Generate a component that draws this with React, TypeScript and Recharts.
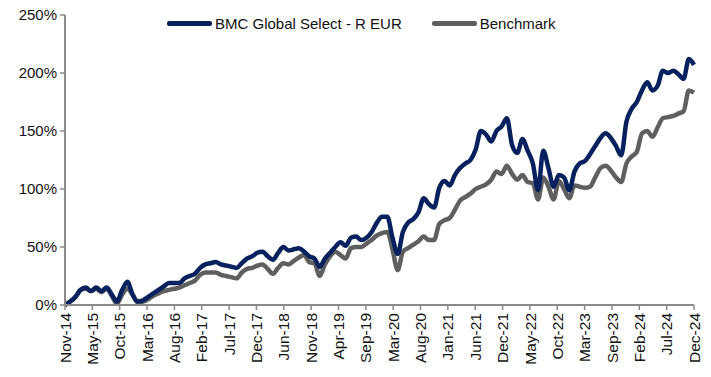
import { LineChart, Line, XAxis, YAxis } from "recharts";

// monthly cumulative performance (%), Nov-14 .. Dec-24
const fund = [
  0, 3, 7, 13, 15, 12, 15, 12, 15, 9, 3, 13, 20, 9, 3, 4, 7, 10, 13, 16,
  19, 19, 19, 23, 25, 27, 32, 35, 36, 37, 35, 34, 33, 32, 36, 40, 42, 45, 46, 42,
  39, 45, 50, 47, 48, 49, 46, 42, 40, 33, 40, 45, 50, 54, 51, 58, 59, 56, 58, 63,
  71, 76, 76, 58, 44, 63, 71, 74, 80, 92, 87, 84, 101, 107, 103, 112, 118, 122, 125, 134,
  150, 147, 141, 150, 154, 161, 138, 131, 143, 133, 122, 99, 133, 118, 102, 112, 110, 99, 115, 122,
  124, 130, 137, 144, 148, 144, 137, 129, 158, 169, 175, 185, 192, 185, 189, 202, 200, 202, 199, 195,
  212, 207,
];

const benchmark = [
  0, 3, 7, 13, 14, 12, 14, 11, 14, 8, 1, 9, 14, 9, 2, 3, 5, 8, 10, 12,
  13, 14, 15, 17, 19, 21, 26, 28, 28, 28, 26, 25, 24, 23, 28, 31, 32, 34, 35, 31,
  27, 32, 36, 35, 38, 41, 43, 37, 36, 25, 35, 42, 46, 43, 40, 49, 50, 50, 53, 56,
  60, 62, 63, 48, 30, 46, 49, 52, 55, 59, 56, 56, 70, 73, 75, 82, 90, 93, 96, 100,
  102, 104, 108, 115, 113, 120, 113, 108, 112, 106, 105, 91, 110, 102, 91, 107, 100, 92, 103, 102,
  101, 102, 110, 118, 120, 116, 110, 106, 122, 128, 132, 148, 150, 145, 153, 161, 162, 163, 165, 167,
  185, 183,
];

const tickLabels = [
  "Nov-14", "May-15", "Oct-15", "Mar-16", "Aug-16", "Feb-17", "Jul-17", "Dec-17",
  "Jun-18", "Nov-18", "Apr-19", "Sep-19", "Mar-20", "Aug-20", "Jan-21", "Jun-21",
  "Dec-21", "May-22", "Oct-22", "Mar-23", "Sep-23", "Feb-24", "Jul-24", "Dec-24",
];

const yTicks = [0, 50, 100, 150, 200, 250];

const FUND_NAME = "BMC Global Select - R EUR";
const BENCH_NAME = "Benchmark";
const FUND_COLOR = "#06215e";
const BENCH_COLOR = "#5f5f5f";
const AXIS_COLOR = "#8a8a8a";
const FONT = "'Liberation Sans', Arial, sans-serif";

const data = fund.map((v, i) => ({ m: i, fund: v, bench: benchmark[i] }));
const lastIdx = fund.length - 1;
const step = lastIdx / (tickLabels.length - 1);
const xTicks = tickLabels.map((_, i) => i * step);

function XTick({ x, y, payload }: any) {
  const label = tickLabels[Math.round(payload.value / step)];
  return (
    <text
      transform={`translate(${x},${y}) rotate(-90)`}
      textAnchor="end"
      dy="0.36em"
      fontSize={15.5}
      fontFamily={FONT}
      fill="#111"
    >
      {label}
    </text>
  );
}

function LegendItem({ color, name }: { color: string; name: string }) {
  return (
    <div style={{ display: "flex", alignItems: "center" }}>
      <div style={{ width: 45, height: 5, background: color, borderRadius: 2, marginRight: 3 }} />
      <span style={{ fontSize: 15, fontFamily: FONT, color: "#111" }}>{name}</span>
    </div>
  );
}

export default function App() {
  return (
    <div style={{ position: "absolute", left: 0, top: 0, width: 711, height: 377, background: "#fff" }}>
      <LineChart
        width={711}
        height={377}
        data={data}
        margin={{ top: 15, right: 17, left: 0, bottom: 0 }}
      >
        <XAxis
          dataKey="m"
          type="number"
          domain={[0, lastIdx]}
          ticks={xTicks}
          interval={0}
          height={72}
          tick={<XTick />}
          tickSize={5}
          tickMargin={3}
          axisLine={{ stroke: AXIS_COLOR, strokeWidth: 2 }}
          tickLine={{ stroke: AXIS_COLOR, strokeWidth: 1.5 }}
        />
        <YAxis
          domain={[0, 250]}
          ticks={yTicks}
          width={65}
          tickFormatter={(v: number) => `${v}%`}
          tick={{ fontSize: 15, fontFamily: FONT, fill: "#111" }}
          tickSize={5}
          tickMargin={3}
          axisLine={{ stroke: AXIS_COLOR, strokeWidth: 2 }}
          tickLine={{ stroke: AXIS_COLOR, strokeWidth: 1.5 }}
        />
        <Line
          type="monotone"
          dataKey="bench"
          name={BENCH_NAME}
          stroke={BENCH_COLOR}
          strokeWidth={4.5}
          dot={false}
          isAnimationActive={false}
        />
        <Line
          type="monotone"
          dataKey="fund"
          name={FUND_NAME}
          stroke={FUND_COLOR}
          strokeWidth={4.5}
          dot={false}
          isAnimationActive={false}
        />
      </LineChart>
      <div style={{ position: "absolute", left: 167, top: 15, display: "flex", gap: 30 }}>
        <LegendItem color={FUND_COLOR} name={FUND_NAME} />
        <LegendItem color={BENCH_COLOR} name={BENCH_NAME} />
      </div>
    </div>
  );
}
